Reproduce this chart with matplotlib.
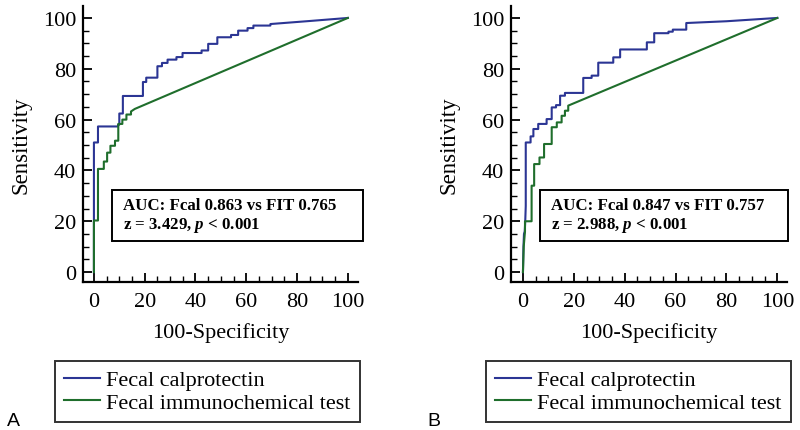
import matplotlib
matplotlib.use("Agg")
import matplotlib.pyplot as plt
from matplotlib.patches import Rectangle
from matplotlib.ticker import MultipleLocator

plt.rcParams["font.family"] = ["Liberation Serif", "DejaVu Serif"]
plt.rcParams["mathtext.fontset"] = "custom"
plt.rcParams["mathtext.it"] = "Liberation Serif:italic:bold"
plt.rcParams["mathtext.rm"] = "Liberation Serif:bold"

BLUE = "#2b3594"
GREEN = "#1f6e2c"

# ROC vertices (100-specificity, sensitivity)
a_fcal_x = [0, 0, 1.6, 1.6, 9.5, 9.5, 10, 10, 11.4, 11.4, 19.3, 19.3, 20.6, 20.6, 25, 25,
            26.8, 26.8, 29, 29, 32.5, 32.5, 34.9, 34.9, 42.4, 42.4, 45, 45, 48.6, 48.6,
            54, 54, 56.8, 56.8, 60.5, 60.5, 62.8, 62.8, 69.5, 69.5, 85, 100]
a_fcal_y = [0, 51, 51, 57.3, 57.3, 58, 58, 62.4, 62.4, 69.3, 69.3, 74.8, 74.8, 76.5, 76.5, 81,
            81, 82.3, 82.3, 83.6, 83.6, 84.6, 84.6, 86.2, 86.2, 87.2, 87.2, 89.8, 89.8, 92.4,
            92.4, 93.3, 93.3, 95, 95, 96, 96, 97, 97, 97.6, 98.8, 100]
a_fit_x = [0, 0, 1.6, 1.6, 3.9, 3.9, 5.2, 5.2, 6.5, 6.5, 8.3, 8.3, 9.6, 9.6, 11.2, 11.2,
           12.8, 12.8, 14.6, 14.6, 16.1, 100]
a_fit_y = [0, 20.3, 20.3, 40.6, 40.6, 43.5, 43.5, 47, 47, 49.7, 49.7, 51.7, 51.7, 58.3,
           58.3, 60, 60, 62, 62, 63.2, 64.2, 100]

b_fcal_x = [0, 0.2, 0.4, 0.7, 0.9, 1.1, 1.1, 3, 3, 4.1, 4.1, 6, 6, 9.3, 9.3, 11.3, 11.3,
            13, 13, 14.6, 14.6, 16.5, 16.5, 23.7, 23.7, 27, 27, 29.6, 29.6, 35.5, 35.5,
            38.2, 38.2, 48.7, 48.7, 51.6, 51.6, 57.2, 57.2, 58.9, 58.9, 64.2, 64.2, 80, 100]
b_fcal_y = [0, 10, 15, 16, 20, 26, 51, 51, 53.4, 53.4, 56.3, 56.3, 58.3, 58.3, 60.2, 60.2,
            64.8, 64.8, 65.7, 65.7, 69.4, 69.4, 70.5, 70.5, 76.4, 76.4, 77.3, 77.3, 82.4,
            82.4, 84.5, 84.5, 87.6, 87.6, 90.4, 90.4, 94, 94, 94.6, 94.6, 95.4, 95.4, 98,
            98.7, 100]
b_fit_x = [0, 0.3, 0.8, 0.8, 3.4, 3.4, 4.4, 4.4, 6.5, 6.5, 8.3, 8.3, 11.3, 11.3, 13.3,
           13.3, 15.2, 15.2, 16.5, 16.5, 17.8, 17.8, 100]
b_fit_y = [0, 10, 16, 20, 20, 34, 34, 42.5, 42.5, 45.1, 45.1, 50.4, 50.4, 57, 57, 58.9,
           58.9, 61.5, 61.5, 63.5, 63.5, 65.5, 100]

auc_text = ["AUC: Fcal 0.863 vs FIT 0.765\nz = 3.429, $p$ < 0.001",
            "AUC: Fcal 0.847 vs FIT 0.757\nz = 2.988, $p$ < 0.001"]
series_names = ["Fecal calprotectin", "Fecal immunochemical test"]
panel_letters = ["A", "B"]

W, H = 800, 431
fig = plt.figure(figsize=(W / 100, H / 100), dpi=100)


def fx(px):
    return px / W


def fy(py):
    return 1 - py / H


panels = [
    dict(ax=[83, 358], xlim=(-4.3, 104.0), fcal=(a_fcal_x, a_fcal_y), fit=(a_fit_x, a_fit_y),
         box=(112, 191, 363, 242), leg=(207.5, 392.5), letter=(7, 426)),
    dict(ax=[511, 787], xlim=(-4.7, 103.8), fcal=(b_fcal_x, b_fcal_y), fit=(b_fit_x, b_fit_y),
         box=(540, 191, 788, 242), leg=(638.5, 392.5), letter=(427, 426)),
]

for i, p in enumerate(panels):
    l, r = p["ax"]
    ax = fig.add_axes([fx(l), fy(283), (r - l) / W, (283 - 7) / H])
    ax.plot(*p["fcal"], color=BLUE, lw=1.5, label=series_names[0])
    ax.plot(*p["fit"], color=GREEN, lw=1.5, label=series_names[1])
    ax.set_ylim(-3.9, 104.7)
    for s in ["top", "right"]:
        ax.spines[s].set_visible(False)
    for s in ["left", "bottom"]:
        ax.spines[s].set_linewidth(1.6)
    ax.xaxis.set_major_locator(MultipleLocator(20))
    ax.yaxis.set_major_locator(MultipleLocator(20))
    ax.xaxis.set_minor_locator(MultipleLocator(5))
    ax.yaxis.set_minor_locator(MultipleLocator(5))
    ax.set_xlim(*p["xlim"])
    ax.tick_params(which="major", direction="in", length=6.5, width=1.3, labelsize=16, pad=5)
    ax.tick_params(which="minor", direction="in", length=4, width=1.0)
    ax.tick_params(axis="x", which="major", pad=7)
    ax.set_xlabel("100-Specificity", fontsize=16, labelpad=8)
    ax.set_ylabel("Sensitivity", fontsize=16.5, labelpad=8)

    x0, y0, x1, y1 = p["box"]
    fig.add_artist(Rectangle((fx(x0), fy(y1)), (x1 - x0) / W, (y1 - y0) / H,
                             transform=fig.transFigure, fill=False, ec="black", lw=1.4))
    fig.text(fx(x0 + 11), fy((y0 + y1) / 2), auc_text[i], fontsize=12.2, fontweight="bold",
             va="center", ha="left", linespacing=1.2)

    leg = ax.legend(loc="center", bbox_to_anchor=(fx(p["leg"][0]), fy(p["leg"][1])),
                    bbox_transform=fig.transFigure, fontsize=16, frameon=True,
                    fancybox=False, edgecolor="black", handlelength=1.6, handletextpad=0.3,
                    borderpad=0.4, labelspacing=0.1, borderaxespad=0)
    leg.get_frame().set_linewidth(1.4)

    fig.text(fx(p["letter"][0]), fy(p["letter"][1]), panel_letters[i], fontsize=14,
             family=["Liberation Sans", "DejaVu Sans"], ha="left", va="baseline")

fig.savefig("out.png", dpi=100)
